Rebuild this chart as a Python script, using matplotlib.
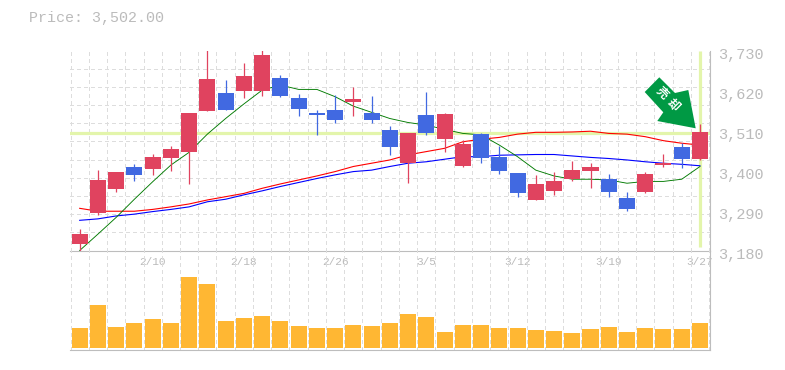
# candlestick chart with moving averages and volume panel
import matplotlib
matplotlib.use('Agg')
import matplotlib.pyplot as plt
from matplotlib.patches import Polygon
from matplotlib.transforms import ScaledTranslation

# price data
opens = [3198, 3284, 3349, 3410, 3404, 3434, 3451, 3564, 3613, 3619, 3619, 3654, 3599, 3558, 3566, 3588, 3558, 3511,
         3421, 3553, 3487, 3412, 3500, 3437, 3393, 3319, 3344, 3377, 3399, 3377, 3324, 3341, 3415, 3465, 3432]
closes = [3225, 3374, 3396, 3388, 3437, 3459, 3558, 3652, 3566, 3660, 3718, 3605, 3569, 3553, 3539, 3597, 3539, 3465,
          3503, 3503, 3555, 3473, 3434, 3399, 3338, 3363, 3371, 3401, 3410, 3341, 3294, 3390, 3421, 3432, 3506]
highs = [3239, 3401, 3396, 3418, 3445, 3467, 3558, 3740, 3649, 3696, 3740, 3663, 3610, 3566, 3608, 3630, 3605, 3522,
         3503, 3616, 3558, 3484, 3503, 3467, 3393, 3388, 3396, 3426, 3421, 3390, 3341, 3396, 3445, 3476, 3528]
lows = [3180, 3278, 3341, 3371, 3388, 3399, 3363, 3564, 3566, 3599, 3605, 3602, 3550, 3498, 3531, 3550, 3531, 3443,
        3366, 3498, 3451, 3410, 3421, 3390, 3327, 3319, 3333, 3371, 3352, 3327, 3289, 3338, 3410, 3407, 3429]

# moving averages
ma_green = [3180, 3225, 3271, 3321, 3369, 3415, 3450, 3500, 3543, 3583, 3621, 3635, 3623, 3623, 3603, 3577, 3560, 3543,
            3532, 3525, 3513, 3502, 3498, 3470, 3438, 3401, 3385, 3376, 3376, 3374, 3365, 3370, 3370, 3376, 3411]
ma_red = [3296, 3288, 3288, 3288, 3293, 3300, 3308, 3319, 3328, 3337, 3351, 3363, 3374, 3385, 3397, 3411, 3420, 3429,
          3443, 3452, 3461, 3479, 3486, 3491, 3500, 3505, 3505, 3506, 3508, 3502, 3500, 3493, 3482, 3475, 3470]
ma_blue = [3263, 3267, 3275, 3280, 3287, 3293, 3300, 3314, 3321, 3333, 3344, 3356, 3367, 3378, 3388, 3397, 3401, 3411,
           3420, 3424, 3431, 3438, 3438, 3442, 3443, 3444, 3444, 3440, 3436, 3433, 3429, 3424, 3420, 3417, 3413]

volumes = [60, 129, 63, 75, 87, 75, 213, 192, 81, 90, 96, 81, 66, 60, 60, 69, 66, 75,
           102, 93, 48, 69, 69, 60, 60, 54, 51, 45, 57, 63, 48, 60, 57, 57, 75]

date_pos = [4, 9, 14, 19, 24, 29, 34]
date_labels = ['2/10', '2/18', '2/26', '3/5', '3/12', '3/19', '3/27']
price_ticks = [3180, 3290, 3400, 3510, 3620, 3730]
price_labels = ['3,180', '3,290', '3,400', '3,510', '3,620', '3,730']
grid_prices = list(range(3180, 3731, 50))
last_price = 3502

RED = '#E0435F'
BLUE = '#4169E1'
TEXT = '#BBBBBB'
GRID = '#DDDDDD'
AXIS = '#BDBDBD'
HILITE = '#E3F5AB'
MONO = 'Liberation Mono'
W, H = 785, 370

fig = plt.figure(figsize=(W / 100, H / 100), dpi=100)
ax = fig.add_axes([70 / W, (H - 250.5) / H, 640 / W, 200 / H])
vax = fig.add_axes([70 / W, (H - 350) / H, 640 / W, 99.5 / H])

x = list(range(len(closes)))
grid_x = [i - 0.5 for i in range(len(closes) + 1)]
dash = (0, (3, 3))

# price panel
ax.set_xlim(-0.53, 34.55)
ax.set_ylim(3180, 3730)
ax.set_yticks(grid_prices, minor=True)
ax.set_xticks(grid_x, minor=True)
ax.grid(which='minor', color=GRID, linewidth=0.72, linestyle=dash, antialiased=False)
ax.set_axisbelow(True)

ax.axhline(last_price, color=HILITE, linewidth=2.3, zorder=1.5)
ax.plot([34, 34], [3190, 3730], color=HILITE, linewidth=2.3, zorder=1.5, solid_capstyle='butt')

ax.plot(x, ma_red, color='#FF0000', linewidth=0.8, zorder=2)
ax.plot(x, ma_blue, color='#0000FF', linewidth=0.8, zorder=2)
ax.plot(x, ma_green, color='#007A00', linewidth=0.65, zorder=2)

colors = []
for i in x:
    if closes[i] >= opens[i]:
        colors.append(RED)
    else:
        colors.append(BLUE)
ax.vlines(x, lows, highs, colors=colors, linewidth=0.9, zorder=3)
ax.bar(x, [abs(c - o) for c, o in zip(closes, opens)], bottom=[min(c, o) for c, o in zip(closes, opens)],
       width=0.878, color=colors, zorder=3)

ax.yaxis.tick_right()
ax.set_yticks(price_ticks)
ax.set_yticklabels(price_labels, fontsize=11, color=TEXT, family=MONO)
ax.set_xticks(date_pos)
ax.set_xticklabels(date_labels, fontsize=8, color=TEXT, family=MONO)
ax.tick_params(which='both', length=0)
ax.tick_params(axis='y', which='major', pad=6)
ax.tick_params(axis='x', which='major', pad=5)
for label in ax.get_yticklabels():
    label.set_transform(label.get_transform() + ScaledTranslation(0, -2 / 72, fig.dpi_scale_trans))

for side in ['top', 'left']:
    ax.spines[side].set_visible(False)
ax.spines['bottom'].set_color(AXIS)
ax.spines['right'].set_color(AXIS)

# volume panel
vax.set_xlim(-0.53, 34.55)
vax.set_ylim(-6, 292.5)
vax.set_xticks(grid_x)
vax.set_yticks([])
vax.set_xticklabels([])
vax.tick_params(length=0)
vax.grid(axis='x', color=GRID, linewidth=0.72, linestyle=dash, antialiased=False)
vax.set_axisbelow(True)
vax.bar(x, volumes, width=0.878, color='#FFB733')
for side in ['top', 'left']:
    vax.spines[side].set_visible(False)
vax.spines['bottom'].set_color(AXIS)
vax.spines['right'].set_color(AXIS)
vax.patch.set_alpha(0)

fig.text(29 / W, 1 - 18 / H, 'Price: 3,502.00', fontsize=10.8, color=TEXT, family=MONO, va='center')

# green sell arrow, in figure pixels
arrow_px = [(659.3, 77.3), (675, 93), (688.3, 90), (695.7, 128.3), (657.3, 121), (663.3, 112.3), (644.7, 92)]
fig.add_artist(Polygon([(px / W, 1 - py / H) for px, py in arrow_px], closed=True, transform=fig.transFigure,
                       facecolor='#009944', edgecolor='none', zorder=10))
for ch, px, py in [('売', 661.7, 93.3), ('却', 673, 105)]:
    fig.text(px / W, 1 - py / H, ch, fontsize=8.5, color='white', rotation=-45, rotation_mode='anchor',
             ha='center', va='center', weight='bold', family=['Noto Sans CJK JP', 'DejaVu Sans'], zorder=11)

fig.savefig('out.png', dpi=100)
